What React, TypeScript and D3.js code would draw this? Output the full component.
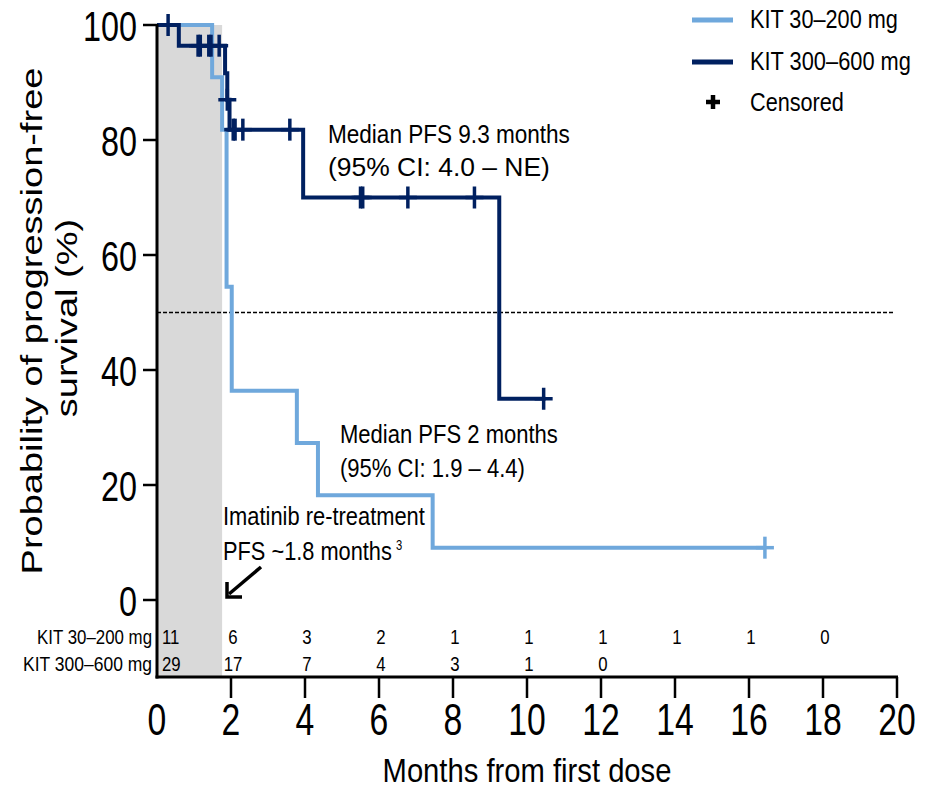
import React, { useLayoutEffect, useRef, useState } from "react";
import * as d3 from "d3";

// ---- data ----
const lowTimes = [0, 1.49, 1.76, 1.88, 2.02, 3.78, 4.35, 7.45, 16.43];
const lowSurv = [100, 90.9, 81.8, 54.5, 36.4, 27.3, 18.2, 9.1, 9.1];
const lowCensor = [16.43];

const highTimes = [0, 0.59, 1.84, 1.9, 1.96, 3.95, 9.25, 10.5];
const highSurv = [100, 96.4, 91.6, 87.0, 81.8, 70.0, 35.0, 35.0];
const highCensor = [0.3, 1.11, 1.17, 1.4, 1.46, 1.68, 1.9, 2.06, 2.11, 2.32, 3.59, 5.5, 5.56, 6.78, 8.58, 10.45];

const riskMonths = [0, 2, 4, 6, 8, 10, 12, 14, 16, 18];
const lowRisk = [11, 6, 3, 2, 1, 1, 1, 1, 1, 0];
const highRisk = [29, 17, 7, 4, 3, 1, 0];

const xTicks = [0, 2, 4, 6, 8, 10, 12, 14, 16, 18, 20];
const yTicks = [0, 20, 40, 60, 80, 100];

const seriesNames = ["KIT 30\u2013200 mg", "KIT 300\u2013600 mg"];
const LIGHT = "#6fa8dc";
const DARK = "#002060";
const FONT = "'Liberation Sans', Arial, sans-serif";

const x = d3.scaleLinear().domain([0, 20]).range([157, 897]);
const y = d3.scaleLinear().domain([0, 100]).range([600, 25]);
const AXIS_Y = 677;

function survAt(times: number[], surv: number[], t: number) {
  let v = surv[0];
  for (let i = 0; i < times.length; i++) if (times[i] <= t) v = surv[i];
  return v;
}

// Text whose horizontal size is either a fixed scale (sx) or fitted to a target width (len)
function T(props: any) {
  const { x: tx, y: ty, size, sx = 1, anchor = "start", len, children } = props;
  const ref = useRef<SVGTextElement>(null);
  const [s, setS] = useState(sx);
  useLayoutEffect(() => {
    if (len && ref.current) {
      const w = ref.current.getComputedTextLength();
      if (w > 0) setS(len / w);
    }
  }, [len, size, children]);
  return (
    <text ref={ref} transform={`translate(${tx},${ty}) scale(${s},1)`} fontSize={size} textAnchor={anchor} fontFamily={FONT} fill="#000">
      {children}
    </text>
  );
}

const stepLine = d3
  .line<[number, number]>()
  .x((d) => x(d[0]))
  .y((d) => y(d[1]))
  .curve(d3.curveStepAfter);

function Curve({ times, surv, censor, color }: any) {
  const pts: [number, number][] = times.map((t: number, i: number) => [t, surv[i]]);
  return (
    <g>
      <path d={stepLine(pts) || ""} fill="none" stroke={color} strokeWidth={4} strokeLinejoin="miter" />
      {censor.map((c: number, i: number) => {
        const cx = x(c);
        const cy = y(survAt(times, surv, c));
        return (
          <g key={i} stroke={color} strokeWidth={3.5}>
            <line x1={cx} x2={cx} y1={cy - 11} y2={cy + 11} />
            <line x1={cx - 9} x2={cx + 9} y1={cy} y2={cy} />
          </g>
        );
      })}
    </g>
  );
}

export default function App() {
  return (
    <svg width={926} height={790} style={{ position: "absolute", left: 0, top: 0, background: "#fff" }}>
      {/* shaded imatinib region */}
      <rect x={x(0)} y={y(100)} width={x(1.76) - x(0)} height={AXIS_Y - y(100)} fill="#d9d9d9" />
      {/* median reference line */}
      <line x1={x(0)} x2={894} y1={y(50)} y2={y(50)} stroke="#000" strokeWidth={1.5} strokeDasharray="4,2" />

      <Curve times={lowTimes} surv={lowSurv} censor={lowCensor} color={LIGHT} />
      <Curve times={highTimes} surv={highSurv} censor={highCensor} color={DARK} />

      {/* axes */}
      <line x1={x(0)} x2={x(0)} y1={y(100) - 1} y2={AXIS_Y + 1.5} stroke="#000" strokeWidth={3} />
      {yTicks.map((t) => (
        <g key={t}>
          <line x1={143} x2={x(0)} y1={y(t)} y2={y(t)} stroke="#000" strokeWidth={2.5} />
          <T x={137} y={y(t) + 16} size={42} sx={0.77} anchor="end">{t}</T>
        </g>
      ))}
      <line x1={x(0) - 1.5} x2={x(20) + 1} y1={AXIS_Y} y2={AXIS_Y} stroke="#000" strokeWidth={3} />
      {xTicks.map((t) => (
        <g key={t}>
          {t > 0 && <line x1={x(t)} x2={x(t)} y1={AXIS_Y} y2={AXIS_Y + 21} stroke="#000" strokeWidth={2.5} />}
          <T x={x(t)} y={735} size={45} sx={0.75} anchor="middle">{t}</T>
        </g>
      ))}
      <T x={527} y={782} size={33} len={289} anchor="middle">Months from first dose</T>

      {/* y title */}
      <g transform="translate(42,321) scale(0.77,1) rotate(-90)">
        <text textAnchor="middle" fontSize={38} fontFamily={FONT} fill="#000">Probability of progression-free</text>
      </g>
      <g transform="translate(77,318) scale(0.77,1) rotate(-90)">
        <text textAnchor="middle" fontSize={38} fontFamily={FONT} fill="#000">survival (%)</text>
      </g>

      {/* numbers at risk */}
      <T x={152} y={644} size={21} len={115} anchor="end">{seriesNames[0]}</T>
      <T x={152} y={670.5} size={21} len={129} anchor="end">{seriesNames[1]}</T>
      {lowRisk.map((v, i) => (
        <T key={"l" + i} x={i === 0 ? 162 : x(riskMonths[i]) + 2} y={644} size={21} sx={0.8} anchor={i === 0 ? "start" : "middle"}>{v}</T>
      ))}
      {highRisk.map((v, i) => (
        <T key={"h" + i} x={i === 0 ? 162 : x(riskMonths[i]) + 2} y={670.5} size={21} sx={0.8} anchor={i === 0 ? "start" : "middle"}>{v}</T>
      ))}

      {/* annotations */}
      <T x={328} y={143} size={25.5} len={242}>Median PFS 9.3 months</T>
      <T x={328} y={176} size={25.5} len={222}>(95% CI: 4.0 – NE)</T>
      <T x={340} y={443} size={25.5} len={218}>Median PFS 2 months</T>
      <T x={340} y={477} size={25.5} len={185}>(95% CI: 1.9 – 4.4)</T>
      <T x={223} y={525} size={25.5} len={202}>Imatinib re-treatment</T>
      <T x={223} y={560} size={25.5} len={169}>PFS ~1.8 months</T>
      <T x={396} y={550} size={14} sx={0.8}>3</T>
      <g stroke="#000" strokeWidth={3.5} fill="none">
        <line x1={261} y1={567} x2={229} y2={594} />
        <polyline points="227,582 227,597 242,597" strokeLinejoin="miter" />
      </g>

      {/* legend */}
      <line x1={692} x2={733} y1={20} y2={20} stroke={LIGHT} strokeWidth={5} />
      <line x1={692} x2={733} y1={62} y2={62} stroke={DARK} strokeWidth={5} />
      <g stroke="#000" strokeWidth={4.5}>
        <line x1={713} x2={713} y1={95} y2={109} />
        <line x1={706} x2={720} y1={102} y2={102} />
      </g>
      <T x={750} y={27.5} size={25} len={148}>{seriesNames[0]}</T>
      <T x={750} y={69.5} size={25} len={161}>{seriesNames[1]}</T>
      <T x={750} y={111} size={25} len={94}>Censored</T>
    </svg>
  );
}
